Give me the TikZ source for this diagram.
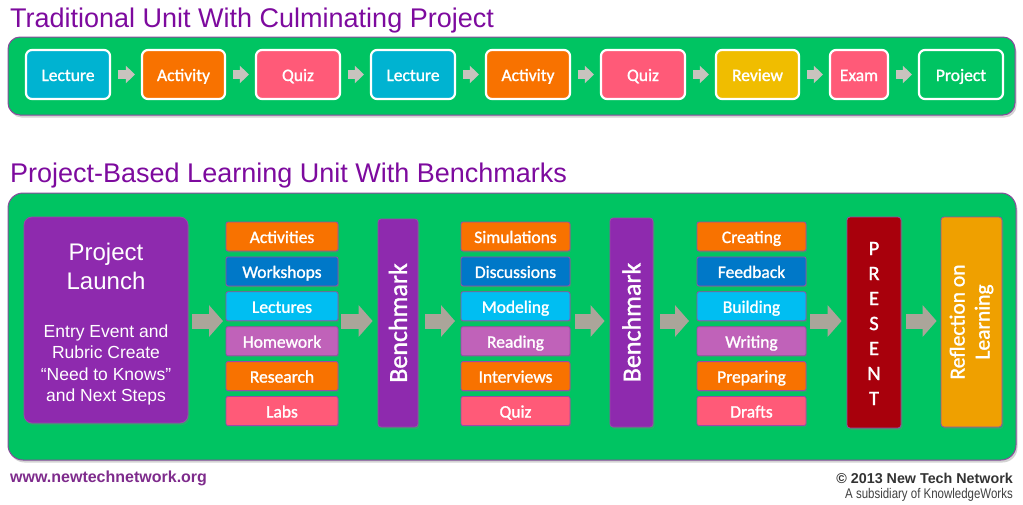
\documentclass[tikz,border=0pt]{standalone}
\usepackage{fontspec}
\setmainfont{Liberation Sans}
\newfontfamily\calib[FakeBold=1.3]{Carlito}
\newfontfamily\narrowfont[FakeStretch=0.82]{Liberation Sans}
\usetikzlibrary{arrows.meta,shadows}
\definecolor{ttl}{HTML}{7D0A9E}
\definecolor{grn}{HTML}{00C462}
\definecolor{pbord}{HTML}{8B4A9C}
\definecolor{cLect}{HTML}{00B3D1}
\definecolor{cAct}{HTML}{F87200}
\definecolor{cQuiz}{HTML}{FF5A78}
\definecolor{cRev}{HTML}{F0BD00}
\definecolor{cBlue}{HTML}{0078C8}
\definecolor{cCyan}{HTML}{00BEF2}
\definecolor{cLav}{HTML}{C062B9}
\definecolor{cPurp}{HTML}{8E2AAE}
\definecolor{cRed}{HTML}{A8000C}
\definecolor{cAmb}{HTML}{EFA000}
\definecolor{sArr}{HTML}{C8C3BE}
\definecolor{bArr}{HTML}{ABA59A}
\definecolor{cbord}{HTML}{9A4AA8}
\definecolor{foot}{HTML}{7E2B8C}
\begin{document}
\begin{tikzpicture}[x=1pt,y=-1pt,
  panel/.style={fill=grn, draw=pbord, line width=1pt, drop shadow={shadow xshift=1.5pt, shadow yshift=-2.5pt, opacity=0.35}},
  title/.style={anchor=base west, inner sep=0, text=ttl, font=\fontsize{27}{30}\selectfont},
  tbox/.style={draw=white, line width=2.2pt, rounded corners=6pt, text=white, font=\calib\fontsize{17.5}{20}\selectfont, minimum height=49, inner sep=0, text height=13pt, text depth=0pt},
  sarrow/.style={draw=sArr, line width=9pt, -{Triangle[width=17pt,length=9pt]}, shorten <=7pt, shorten >=6pt},
  cbox/.style={draw=cbord, line width=0.8pt, rounded corners=2pt, minimum height=29, text=white, font=\calib\fontsize{17.5}{20}\selectfont, inner sep=0, text height=13pt, text depth=0pt, drop shadow={shadow xshift=1pt, shadow yshift=-1.5pt, opacity=0.3}},
  tall/.style={draw=cbord, line width=0.8pt, rounded corners=3pt, text=white, inner sep=0, drop shadow={shadow xshift=1.5pt, shadow yshift=-2pt, opacity=0.3}},
  barrow/.style={draw=bArr, line width=15pt, -{Triangle[width=31pt,length=14pt]}},
  ltxt/.style={anchor=base, inner sep=0, text=white}
]
\useasboundingbox (0,0) rectangle (1023,504);

% ---------- Traditional unit ----------
\node[title] (t1title) at (10,27) {Traditional Unit With Culminating Project};
\draw[panel, rounded corners=12pt] (8,37) rectangle (1015,115);

\node[tbox, fill=cLect, minimum width=84] (u1) at (68,74.5) {Lecture};
\node[tbox, fill=cAct,  minimum width=83] (u2) at (183.5,74.5) {Activity};
\node[tbox, fill=cQuiz, minimum width=84] (u3) at (298,74.5) {Quiz};
\node[tbox, fill=cLect, minimum width=84] (u4) at (413,74.5) {Lecture};
\node[tbox, fill=cAct,  minimum width=84] (u5) at (528,74.5) {Activity};
\node[tbox, fill=cQuiz, minimum width=84] (u6) at (643,74.5) {Quiz};
\node[tbox, fill=cRev,  minimum width=83] (u7) at (757.5,74.5) {Review};
\node[tbox, fill=cQuiz, minimum width=58] (u8) at (859,74.5) {Exam};
\node[tbox, fill=grn,   minimum width=84] (u9) at (961,74.5) {Project};
\foreach \a/\b in {u1/u2,u2/u3,u3/u4,u4/u5,u5/u6,u6/u7,u7/u8,u8/u9}
  \draw[sarrow] (\a) -- (\b);

% ---------- PBL unit ----------
\node[title] (t2title) at (10,182) {Project-Based Learning Unit With Benchmarks};
\draw[panel, rounded corners=15pt] (8,193) rectangle (1016,460);

\node[tall, fill=cPurp, rounded corners=8pt, minimum width=164, minimum height=206] (launch) at (106,320) {};
\node[ltxt, font=\fontsize{24}{28}\selectfont] (lp1) at (106,260) {Project};
\node[ltxt, font=\fontsize{24}{28}\selectfont] (lp2) at (106,289) {Launch};
\node[ltxt, font=\fontsize{17.5}{20}\selectfont] (lp3) at (106,337) {Entry Event and};
\node[ltxt, font=\fontsize{17.5}{20}\selectfont] (lp4) at (106,358) {Rubric Create};
\node[ltxt, font=\fontsize{17.5}{20}\selectfont] (lp5) at (106,380) {“Need to Knows”};
\node[ltxt, font=\fontsize{17.5}{20}\selectfont] (lp6) at (106,401) {and Next Steps};

% column 1
\node[cbox, fill=cAct,  minimum width=112] (a1) at (282,236.5) {Activities};
\node[cbox, fill=cBlue, minimum width=112] (a2) at (282,271.4) {Workshops};
\node[cbox, fill=cCyan, minimum width=112] (a3) at (282,306.3) {Lectures};
\node[cbox, fill=cLav,  minimum width=112] (a4) at (282,341.2) {Homework};
\node[cbox, fill=cAct,  minimum width=112] (a5) at (282,376.1) {Research};
\node[cbox, fill=cQuiz, minimum width=112] (a6) at (282,411) {Labs};

% column 2
\node[cbox, fill=cAct,  minimum width=109] (b1) at (515.5,236.5) {Simulations};
\node[cbox, fill=cBlue, minimum width=109] (b2) at (515.5,271.4) {Discussions};
\node[cbox, fill=cCyan, minimum width=109] (b3) at (515.5,306.3) {Modeling};
\node[cbox, fill=cLav,  minimum width=109] (b4) at (515.5,341.2) {Reading};
\node[cbox, fill=cAct,  minimum width=109] (b5) at (515.5,376.1) {Interviews};
\node[cbox, fill=cQuiz, minimum width=109] (b6) at (515.5,411) {Quiz};

% column 3
\node[cbox, fill=cAct,  minimum width=109] (c1) at (751.5,236.5) {Creating};
\node[cbox, fill=cBlue, minimum width=109] (c2) at (751.5,271.4) {Feedback};
\node[cbox, fill=cCyan, minimum width=109] (c3) at (751.5,306.3) {Building};
\node[cbox, fill=cLav,  minimum width=109] (c4) at (751.5,341.2) {Writing};
\node[cbox, fill=cAct,  minimum width=109] (c5) at (751.5,376.1) {Preparing};
\node[cbox, fill=cQuiz, minimum width=109] (c6) at (751.5,411) {Drafts};

% tall boxes
\node[tall, fill=cPurp, minimum width=40, minimum height=208] (bm1) at (398,323) {};
\node[rotate=90, text=white, inner sep=0, font=\calib\fontsize{26}{28}\selectfont] (bm1t) at (bm1.center) {Benchmark};
\node[tall, fill=cPurp, minimum width=43, minimum height=209] (bm2) at (631.5,322.5) {};
\node[rotate=90, text=white, inner sep=0, font=\calib\fontsize{26}{28}\selectfont] (bm2t) at (bm2.center) {Benchmark};
\node[tall, fill=cRed, minimum width=54, minimum height=211] (pres) at (874,322.5) {};
\node[text=white, inner sep=0, align=center, font=\calib\fontsize{20.5}{25}\selectfont] (prest) at (874,323.5) {P\\R\\E\\S\\E\\N\\T};
\node[tall, fill=cAmb, minimum width=61, minimum height=210] (refl) at (971.5,322) {};
\node[rotate=90, text=white, inner sep=0, align=center, font=\calib\fontsize{21.5}{25}\selectfont] (reflt) at (refl.center) {Reflection on\\Learning};

% big arrows
\coordinate (ka) at (226,321);
\coordinate (kb) at (338,321);
\coordinate (kc) at (461,321);
\coordinate (kd) at (570,321);
\coordinate (ke) at (697,321);
\coordinate (kf) at (806,321);
\draw[barrow, shorten <=4pt, shorten >=3pt] (launch.east |- ka) -- (ka);
\draw[barrow, shorten <=3pt, shorten >=5pt] (kb) -- (bm1.west |- kb);
\draw[barrow, shorten <=7pt, shorten >=6pt] (bm1.east |- kc) -- (kc);
\draw[barrow, shorten <=5pt, shorten >=5pt] (kd) -- (bm2.west |- kd);
\draw[barrow, shorten <=7pt, shorten >=8pt] (bm2.east |- ke) -- (ke);
\draw[barrow, shorten <=4pt, shorten >=5pt] (kf) -- (pres.west |- kf);
\draw[barrow, shorten <=5pt, shorten >=4pt] (pres.east |- kf) -- (refl.west |- kf);

% footer
\node[anchor=base west, inner sep=0, text=foot, font=\bfseries\fontsize{16}{18}\selectfont] (web) at (10,482) {www.newtechnetwork.org};
\node[anchor=base east, inner sep=0, text=black!80, font=\bfseries\fontsize{14.3}{16}\selectfont] (copy) at (1013,483) {© 2013 New Tech Network};
\node[anchor=base east, inner sep=0, text=black!75, font=\narrowfont\fontsize{14}{16}\selectfont] (sub) at (1013,498) {A subsidiary of KnowledgeWorks};
\end{tikzpicture}
\end{document}
